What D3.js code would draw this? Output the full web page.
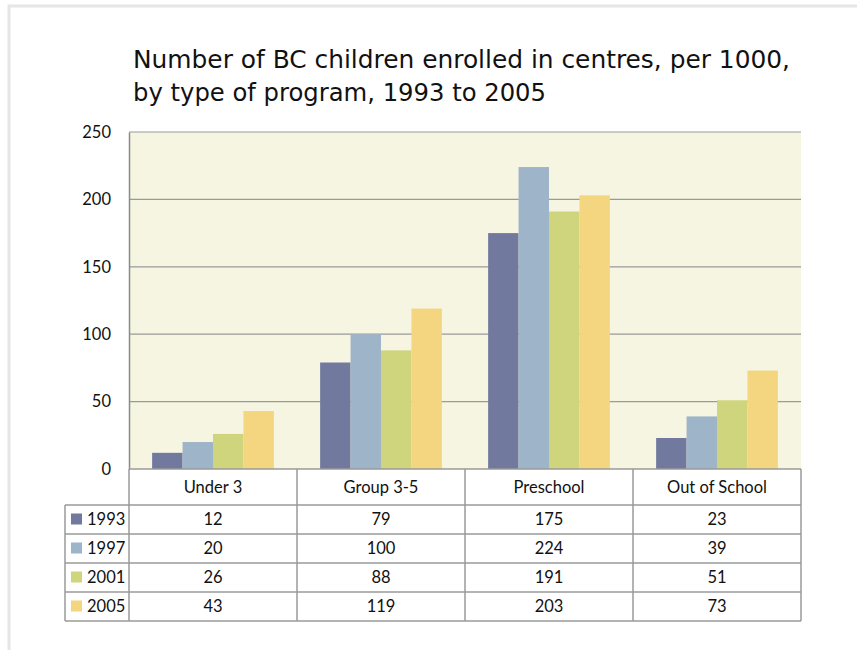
<!DOCTYPE html>
<html>
<head>
<meta charset="utf-8">
<script src="https://cdn.jsdelivr.net/npm/d3@7"></script>
<style>
  body { margin: 0; background: #fff; }
  svg { display: block; }
</style>
</head>
<body>
<div id="chart"></div>
<script>
// data
var categories = ["Under 3", "Group 3-5", "Preschool", "Out of School"];
var years = ["1993", "1997", "2001", "2005"];
var values1993 = [12, 79, 175, 23];
var values1997 = [20, 100, 224, 39];
var values2001 = [26, 88, 191, 51];
var values2005 = [43, 119, 203, 73];
var yTicks = [0, 50, 100, 150, 200, 250];
var colors = ["#717a9e", "#9eb4c9", "#cfd57c", "#f3d67f"];

var series = [values1993, values1997, values2001, values2005];

var W = 857, H = 650;
var plot = {left: 129, right: 801, top: 132, bottom: 469};
var tbl = {left: 65, headerH: 36, rowH: 29};

var svg = d3.select("#chart").append("svg")
    .attr("width", W)
    .attr("height", H);

// outer frame (light gray)
svg.append("path")
    .attr("d", "M9," + H + " V6 H" + W)
    .attr("fill", "none")
    .attr("stroke", "#e6e6e6")
    .attr("stroke-width", 3);

// title
var title = svg.append("text")
    .attr("font-family", "DejaVu Sans, sans-serif")
    .attr("font-size", 24)
    .attr("fill", "#111");
title.append("tspan").attr("x", 133).attr("y", 68)
    .attr("textLength", 657).attr("lengthAdjust", "spacingAndGlyphs")
    .text("Number of BC children enrolled in centres, per 1000,");
title.append("tspan").attr("x", 133).attr("y", 101)
    .attr("textLength", 413).attr("lengthAdjust", "spacingAndGlyphs")
    .text("by type of program, 1993 to 2005");

var x0 = d3.scaleBand()
    .domain(categories)
    .range([plot.left, plot.right])
    .padding(0);

var x1 = d3.scaleBand()
    .domain(years)
    .range([0, x0.bandwidth()])
    .paddingInner(0)
    .paddingOuter(0.76);

var y = d3.scaleLinear()
    .domain([0, 250])
    .range([plot.bottom, plot.top]);

// plot background
svg.append("rect")
    .attr("x", plot.left)
    .attr("y", plot.top)
    .attr("width", plot.right - plot.left)
    .attr("height", plot.bottom - plot.top)
    .attr("fill", "#f5f5e1");

// gridlines
svg.append("g")
  .selectAll("line")
  .data(yTicks.filter(function (d) { return d > 0; }))
  .join("line")
    .attr("x1", plot.left)
    .attr("x2", plot.right)
    .attr("y1", function (d) { return y(d); })
    .attr("y2", function (d) { return y(d); })
    .attr("stroke", "#9a9a9a")
    .attr("stroke-width", 1.2);

var font = "Lato, Open Sans, sans-serif";

// y axis
var yAxis = d3.axisLeft(y).tickValues(yTicks).tickSize(0).tickPadding(18);
var gy = svg.append("g")
    .attr("transform", "translate(" + plot.left + ",0)")
    .call(yAxis);
gy.select(".domain").attr("stroke", "#8a8a8a").attr("stroke-width", 1.5);
gy.selectAll("text")
    .attr("font-family", font)
    .attr("font-size", 16.5)
    .attr("fill", "#111");

// bars
var groups = svg.append("g")
  .selectAll("g")
  .data(series)
  .join("g")
    .attr("fill", function (d, i) { return colors[i]; });

groups.each(function (vals, si) {
  d3.select(this).selectAll("rect")
    .data(vals)
    .join("rect")
      .attr("x", function (d, ci) { return x0(categories[ci]) + x1(years[si]); })
      .attr("y", function (d) { return y(d); })
      .attr("width", x1.bandwidth())
      .attr("height", function (d) { return y(0) - y(d); });
});

// data table
var tableTop = plot.bottom;
var tableBottom = tableTop + tbl.headerH + tbl.rowH * years.length;
var lineColor = "#9a9a9a";
var tg = svg.append("g");

// horizontal lines
var hLines = [tableTop];
for (var r = 0; r <= years.length; r++) hLines.push(tableTop + tbl.headerH + r * tbl.rowH);
tg.selectAll("line.h")
  .data(hLines)
  .join("line")
    .attr("class", "h")
    .attr("x1", function (d, i) { return i === 0 ? plot.left : tbl.left; })
    .attr("x2", plot.right)
    .attr("y1", function (d) { return d; })
    .attr("y2", function (d) { return d; })
    .attr("stroke", lineColor)
    .attr("stroke-width", 1.5);

// vertical lines
var vLines = categories.map(function (c) { return x0(c); }).concat([plot.right]);
tg.selectAll("line.v")
  .data(vLines)
  .join("line")
    .attr("class", "v")
    .attr("x1", function (d) { return d; })
    .attr("x2", function (d) { return d; })
    .attr("y1", tableTop)
    .attr("y2", tableBottom)
    .attr("stroke", lineColor)
    .attr("stroke-width", 1.5);
tg.append("line")
    .attr("x1", tbl.left).attr("x2", tbl.left)
    .attr("y1", tableTop + tbl.headerH).attr("y2", tableBottom)
    .attr("stroke", lineColor)
    .attr("stroke-width", 1.5);

// header labels
tg.selectAll("text.cat")
  .data(categories)
  .join("text")
    .attr("class", "cat")
    .attr("x", function (d) { return x0(d) + x0.bandwidth() / 2; })
    .attr("y", tableTop + tbl.headerH / 2)
    .attr("dy", "0.35em")
    .attr("text-anchor", "middle")
    .attr("font-family", font)
    .attr("font-size", 16.5)
    .attr("fill", "#111")
    .text(function (d) { return d; });

// rows
years.forEach(function (yr, si) {
  var cy = tableTop + tbl.headerH + si * tbl.rowH + tbl.rowH / 2;
  tg.append("rect")
      .attr("x", 71)
      .attr("y", cy - 6)
      .attr("width", 11)
      .attr("height", 11)
      .attr("fill", colors[si]);
  tg.append("text")
      .attr("x", 87)
      .attr("y", cy)
      .attr("dy", "0.35em")
      .attr("font-family", font)
      .attr("font-size", 16.5)
      .attr("fill", "#111")
      .text(yr);
  tg.selectAll(null)
    .data(series[si])
    .join("text")
      .attr("x", function (d, ci) { return x0(categories[ci]) + x0.bandwidth() / 2; })
      .attr("y", cy)
      .attr("dy", "0.35em")
      .attr("text-anchor", "middle")
      .attr("font-family", font)
      .attr("font-size", 16.5)
      .attr("fill", "#111")
      .text(function (d) { return d; });
});
</script>
</body>
</html>
